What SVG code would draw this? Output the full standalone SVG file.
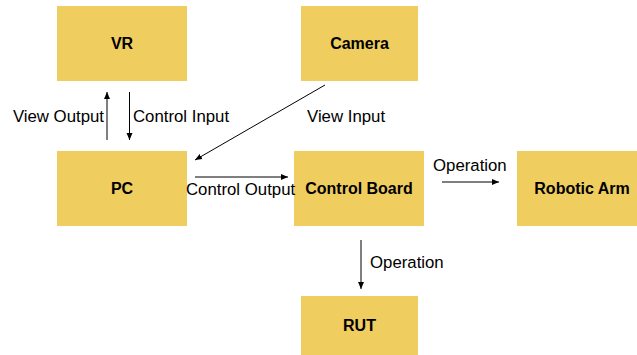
<svg xmlns="http://www.w3.org/2000/svg" width="637" height="355" viewBox="0 0 637 355">
<defs>
<marker id="ah" markerWidth="8" markerHeight="8" refX="7" refY="4" orient="auto" markerUnits="userSpaceOnUse">
<path d="M0,1 L7,4 L0,7 Z" fill="#000"/>
</marker>
<style>
.n{fill:#EFCD5F}
.t{font-family:"Liberation Sans",Arial,sans-serif;font-size:16px;font-weight:bold;fill:#000;text-anchor:middle;dominant-baseline:central}
.l{font-family:"Liberation Sans",Arial,sans-serif;font-size:16.8px;fill:#000;dominant-baseline:central}
.c{stroke:#000;stroke-width:1;fill:none;marker-end:url(#ah)}
</style>
</defs>
<rect width="637" height="355" fill="#fff"/>
<g id="vr"><rect class="n" x="57" y="6" width="130" height="75"/><text class="t" x="122" y="43.5">VR</text></g>
<g id="camera"><rect class="n" x="301" y="6" width="117" height="75"/><text class="t" x="359.5" y="43.5">Camera</text></g>
<g id="pc"><rect class="n" x="57" y="151" width="130" height="75"/><text class="t" x="122" y="188.5">PC</text></g>
<g id="controlboard"><rect class="n" x="294" y="151" width="130" height="75"/><text class="t" x="359" y="188.5">Control Board</text></g>
<g id="roboticarm"><rect class="n" x="517" y="151" width="120" height="75"/><text class="t" x="582" y="188.5">Robotic Arm</text></g>
<g id="rut"><rect class="n" x="301" y="296" width="117" height="59"/><text class="t" x="359.5" y="325">RUT</text></g>
<g id="connectors">
<line class="c" x1="107" y1="140" x2="107" y2="92"/>
<line class="c" x1="129.5" y1="92" x2="129.5" y2="140"/>
<line class="c" x1="325" y1="85" x2="195" y2="160"/>
<line class="c" x1="195" y1="177" x2="288" y2="177"/>
<line class="c" x1="442" y1="182" x2="499" y2="182"/>
<line class="c" x1="361" y1="240" x2="361" y2="289"/>
<text class="l" x="104" y="116" text-anchor="end">View Output</text>
<text class="l" x="133" y="116">Control Input</text>
<text class="l" x="307" y="116">View Input</text>
<text class="l" x="186" y="189">Control Output</text>
<text class="l" x="433" y="165">Operation</text>
<text class="l" x="370" y="262">Operation</text>
</g>
</svg>
